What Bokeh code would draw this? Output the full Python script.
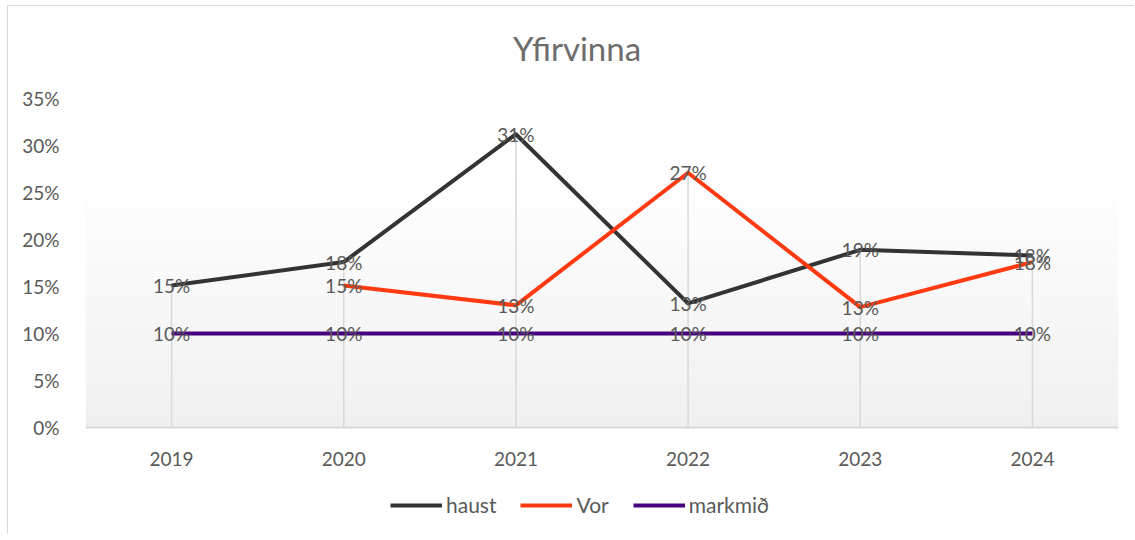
import math
from bokeh.plotting import figure
from bokeh.models import (FactorRange, Range1d, NumeralTickFormatter, Legend, LegendItem,
                          BoxAnnotation, ColumnDataSource, Label)
from bokeh.core.properties import value
from bokeh.embed import file_html
from bokeh.resources import INLINE

# ---- data ----
years = ["2019", "2020", "2021", "2022", "2023", "2024"]
haust = [0.151, 0.176, 0.312, 0.132, 0.189, 0.183]
vor = [float("nan"), 0.151, 0.130, 0.271, 0.128, 0.176]
markmid = [0.10, 0.10, 0.10, 0.10, 0.10, 0.10]
series_names = ["haust", "Vor", "markmið"]
y_ticks = [0, 0.05, 0.10, 0.15, 0.20, 0.25, 0.30, 0.35]
title_text = "Yfirvinna"

colors = ["#333333", "#FF3A10", "#46007E"]
FONT = "Lato"
TXT = "#595959"

PX = 940.0            # pixels per unit on the y axis (329 px for 35%)
Y_MIN = -108 / PX     # room below the axis for the legend
Y_MAX = 0.35 + 92 / PX  # room above the axis for the title
p = figure(frame_width=1033, frame_height=529, x_range=FactorRange(factors=years),
           y_range=Range1d(Y_MIN, Y_MAX), output_backend="svg", toolbar_location=None,
           title_location=None,
           min_border_left=77, min_border_right=17, min_border_top=0, min_border_bottom=0)
p.outline_line_color = None
p.background_fill_color = "white"
p.border_fill_color = "white"
p.margin = (6, 0, 0, 8)
p.styles = {"box-shadow": "-1px -1px 0 0 #D9D9D9"}

# title (inside the frame, above the plotting region)
p.add_layout(Label(x=2.855, y=0.35 + 51 / PX, text=title_text, text_align="center",
                   text_baseline="middle", text_font=FONT, text_font_size="33px",
                   text_color="#6d6d6d"))

# gradient wall background
n = 40
top = 0.275
for i in range(n):
    b = top * i / n
    t = top * (i + 1) / n
    f = i / (n - 1)
    c = int(round(0xF0 + (0xFF - 0xF0) * f))
    p.add_layout(BoxAnnotation(bottom=b, top=t, fill_color="#%02x%02x%02x" % (c, c, c),
                               fill_alpha=1, line_color=None, level="underlay"))

# drop lines from highest point to axis
drop_top = [max(v for v in (h, vv, m) if not math.isnan(v)) for h, vv, m in zip(haust, vor, markmid)]
p.segment(x0=years, y0=[0] * len(years), x1=years, y1=drop_top, line_color="#D9D9D9", line_width=1.5)

# axes
p.xgrid.grid_line_color = None
p.ygrid.grid_line_color = None
p.yaxis.ticker = y_ticks
p.yaxis.formatter = NumeralTickFormatter(format="0%")
p.yaxis.axis_line_color = None
p.yaxis.major_tick_line_color = None
p.yaxis.minor_tick_line_color = None
p.yaxis.major_label_text_font = FONT
p.yaxis.major_label_text_font_size = "19px"
p.yaxis.major_label_text_color = TXT
p.yaxis.major_label_standoff = 20

p.xaxis.fixed_location = 0
p.xaxis.axis_line_color = "#D9D9D9"
p.xaxis.axis_line_width = 2
p.xaxis.major_tick_line_color = None
p.xaxis.minor_tick_line_color = None
p.xaxis.major_label_text_font = FONT
p.xaxis.major_label_text_font_size = "19px"
p.xaxis.major_label_text_color = TXT
p.xaxis.major_label_standoff = 18

renderers = []
for name, vals, col in zip(series_names, [haust, vor, markmid], colors):
    xs = [y for y, v in zip(years, vals) if not math.isnan(v)]
    ys = [v for v in vals if not math.isnan(v)]
    r = p.line(xs, ys, line_color=col, line_width=4, line_join="round")
    renderers.append(r)

for vals in [haust, vor, markmid]:
    xs = [y for y, v in zip(years, vals) if not math.isnan(v)]
    ys = [v for v in vals if not math.isnan(v)]
    labs = ["%d%%" % round(v * 100) for v in ys]
    src = ColumnDataSource(dict(x=xs, y=ys, t=labs))
    p.text(x="x", y="y", text="t", source=src, text_align="center", text_baseline="middle",
           text_font=value(FONT), text_font_size="19px", text_color=TXT)

legend = Legend(items=[LegendItem(label=n_, renderers=[r]) for n_, r in zip(series_names, renderers)],
                orientation="horizontal", location=(305, 18), label_text_font=FONT,
                label_text_font_size="21px", label_text_color=TXT, glyph_width=52,
                label_standoff=4, spacing=24, border_line_color=None, background_fill_alpha=0,
                margin=0, padding=4)
p.add_layout(legend)

open("out.html", "w").write(file_html(p, INLINE))
